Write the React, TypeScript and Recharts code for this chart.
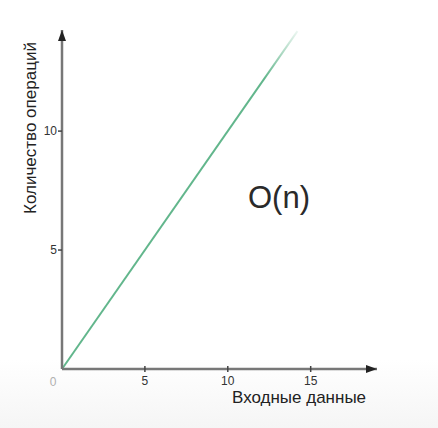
import React from 'react';
import { LineChart, Line, XAxis, YAxis } from 'recharts';

// values
const inputSizes = [0, 14.2];
const operations = [0, 14.2];
const xTicks = [0, 5, 10, 15];
const yTicks = [5, 10];
const xTitle = 'Входные данные';
const yTitle = 'Количество операций';
const complexity = 'O(n)';

const data = inputSizes.map((n, i) => ({ n, ops: operations[i] }));

const AXIS = '#777777';
const FONT = '"Liberation Sans", Arial, sans-serif';

const XTick = (props: any) => {
  const { x, y, payload } = props;
  if (payload.value === 0) {
    return (
      <text x={x - 9} y={y + 17} textAnchor="middle" fontSize={12} fill="#b0b0b0" fontFamily={FONT}>
        0
      </text>
    );
  }
  return (
    <g>
      <line x1={x} x2={x} y1={y - 3} y2={y + 3} stroke="#444" strokeWidth={1.5} />
      <text x={x} y={y + 16} textAnchor="middle" fontSize={12} fill="#333" fontFamily={FONT}>
        {payload.value}
      </text>
    </g>
  );
};

const YTick = (props: any) => {
  const { x, y, payload } = props;
  return (
    <g>
      <line x1={x - 4} x2={x} y1={y} y2={y} stroke="#444" strokeWidth={1.5} />
      <text x={x - 5} y={y + 4} textAnchor="end" fontSize={12} fill="#333" fontFamily={FONT}>
        {payload.value}
      </text>
    </g>
  );
};

const App: React.FC = () => {
  return (
    <div
      style={{
        position: 'absolute',
        left: 0,
        top: 0,
        width: 438,
        height: 428,
        background: 'linear-gradient(to bottom, #ffffff 0px, #ffffff 360px, #f5f5f5 428px)',
        fontFamily: FONT,
      }}
    >
      <LineChart width={438} height={428} data={data} margin={{ top: 30, right: 61, bottom: 0, left: 0 }}>
        <defs>
          <marker id="arrowHead" markerWidth={12} markerHeight={9} refX={11} refY={4} orient="auto-start-reverse" markerUnits="userSpaceOnUse">
            <path d="M0,0 L11,4 L0,8 z" fill="#222" />
          </marker>
          <linearGradient id="fadeLine" x1="0" y1="1" x2="0" y2="0">
            <stop offset="0%" stopColor="#62b68c" stopOpacity={1} />
            <stop offset="86%" stopColor="#62b68c" stopOpacity={1} />
            <stop offset="100%" stopColor="#62b68c" stopOpacity={0.12} />
          </linearGradient>
        </defs>
        <XAxis
          dataKey="n"
          type="number"
          domain={[0, 19]}
          ticks={xTicks}
          height={59}
          tickSize={0}
          tickMargin={0}
          tickLine={false}
          tick={<XTick />}
          axisLine={{ stroke: AXIS, strokeWidth: 2.5, markerEnd: 'url(#arrowHead)' }}
          interval={0}
        />
        <YAxis
          type="number"
          domain={[0, 14.25]}
          ticks={yTicks}
          width={62}
          tickSize={0}
          tickMargin={0}
          tickLine={false}
          tick={<YTick />}
          axisLine={{ stroke: AXIS, strokeWidth: 2.5, markerStart: 'url(#arrowHead)' }}
          interval={0}
        />
        <Line
          type="linear"
          dataKey="ops"
          stroke="url(#fadeLine)"
          strokeWidth={2}
          dot={false}
          isAnimationActive={false}
        />
      </LineChart>
      <div style={{ position: 'absolute', left: 232, top: 389, fontSize: 17, lineHeight: 1, color: '#222', whiteSpace: 'nowrap' }}>
        {xTitle}
      </div>
      <div
        style={{
          position: 'absolute',
          left: 30,
          top: 128,
          fontSize: 17,
          lineHeight: 1,
          color: '#222',
          whiteSpace: 'nowrap',
          transform: 'translate(-50%, -50%) rotate(-90deg)',
        }}
      >
        {yTitle}
      </div>
      <div style={{ position: 'absolute', left: 248, top: 182, fontSize: 31, lineHeight: 1, color: '#2a2a2a', whiteSpace: 'nowrap' }}>
        {complexity}
      </div>
    </div>
  );
};

export default App;
